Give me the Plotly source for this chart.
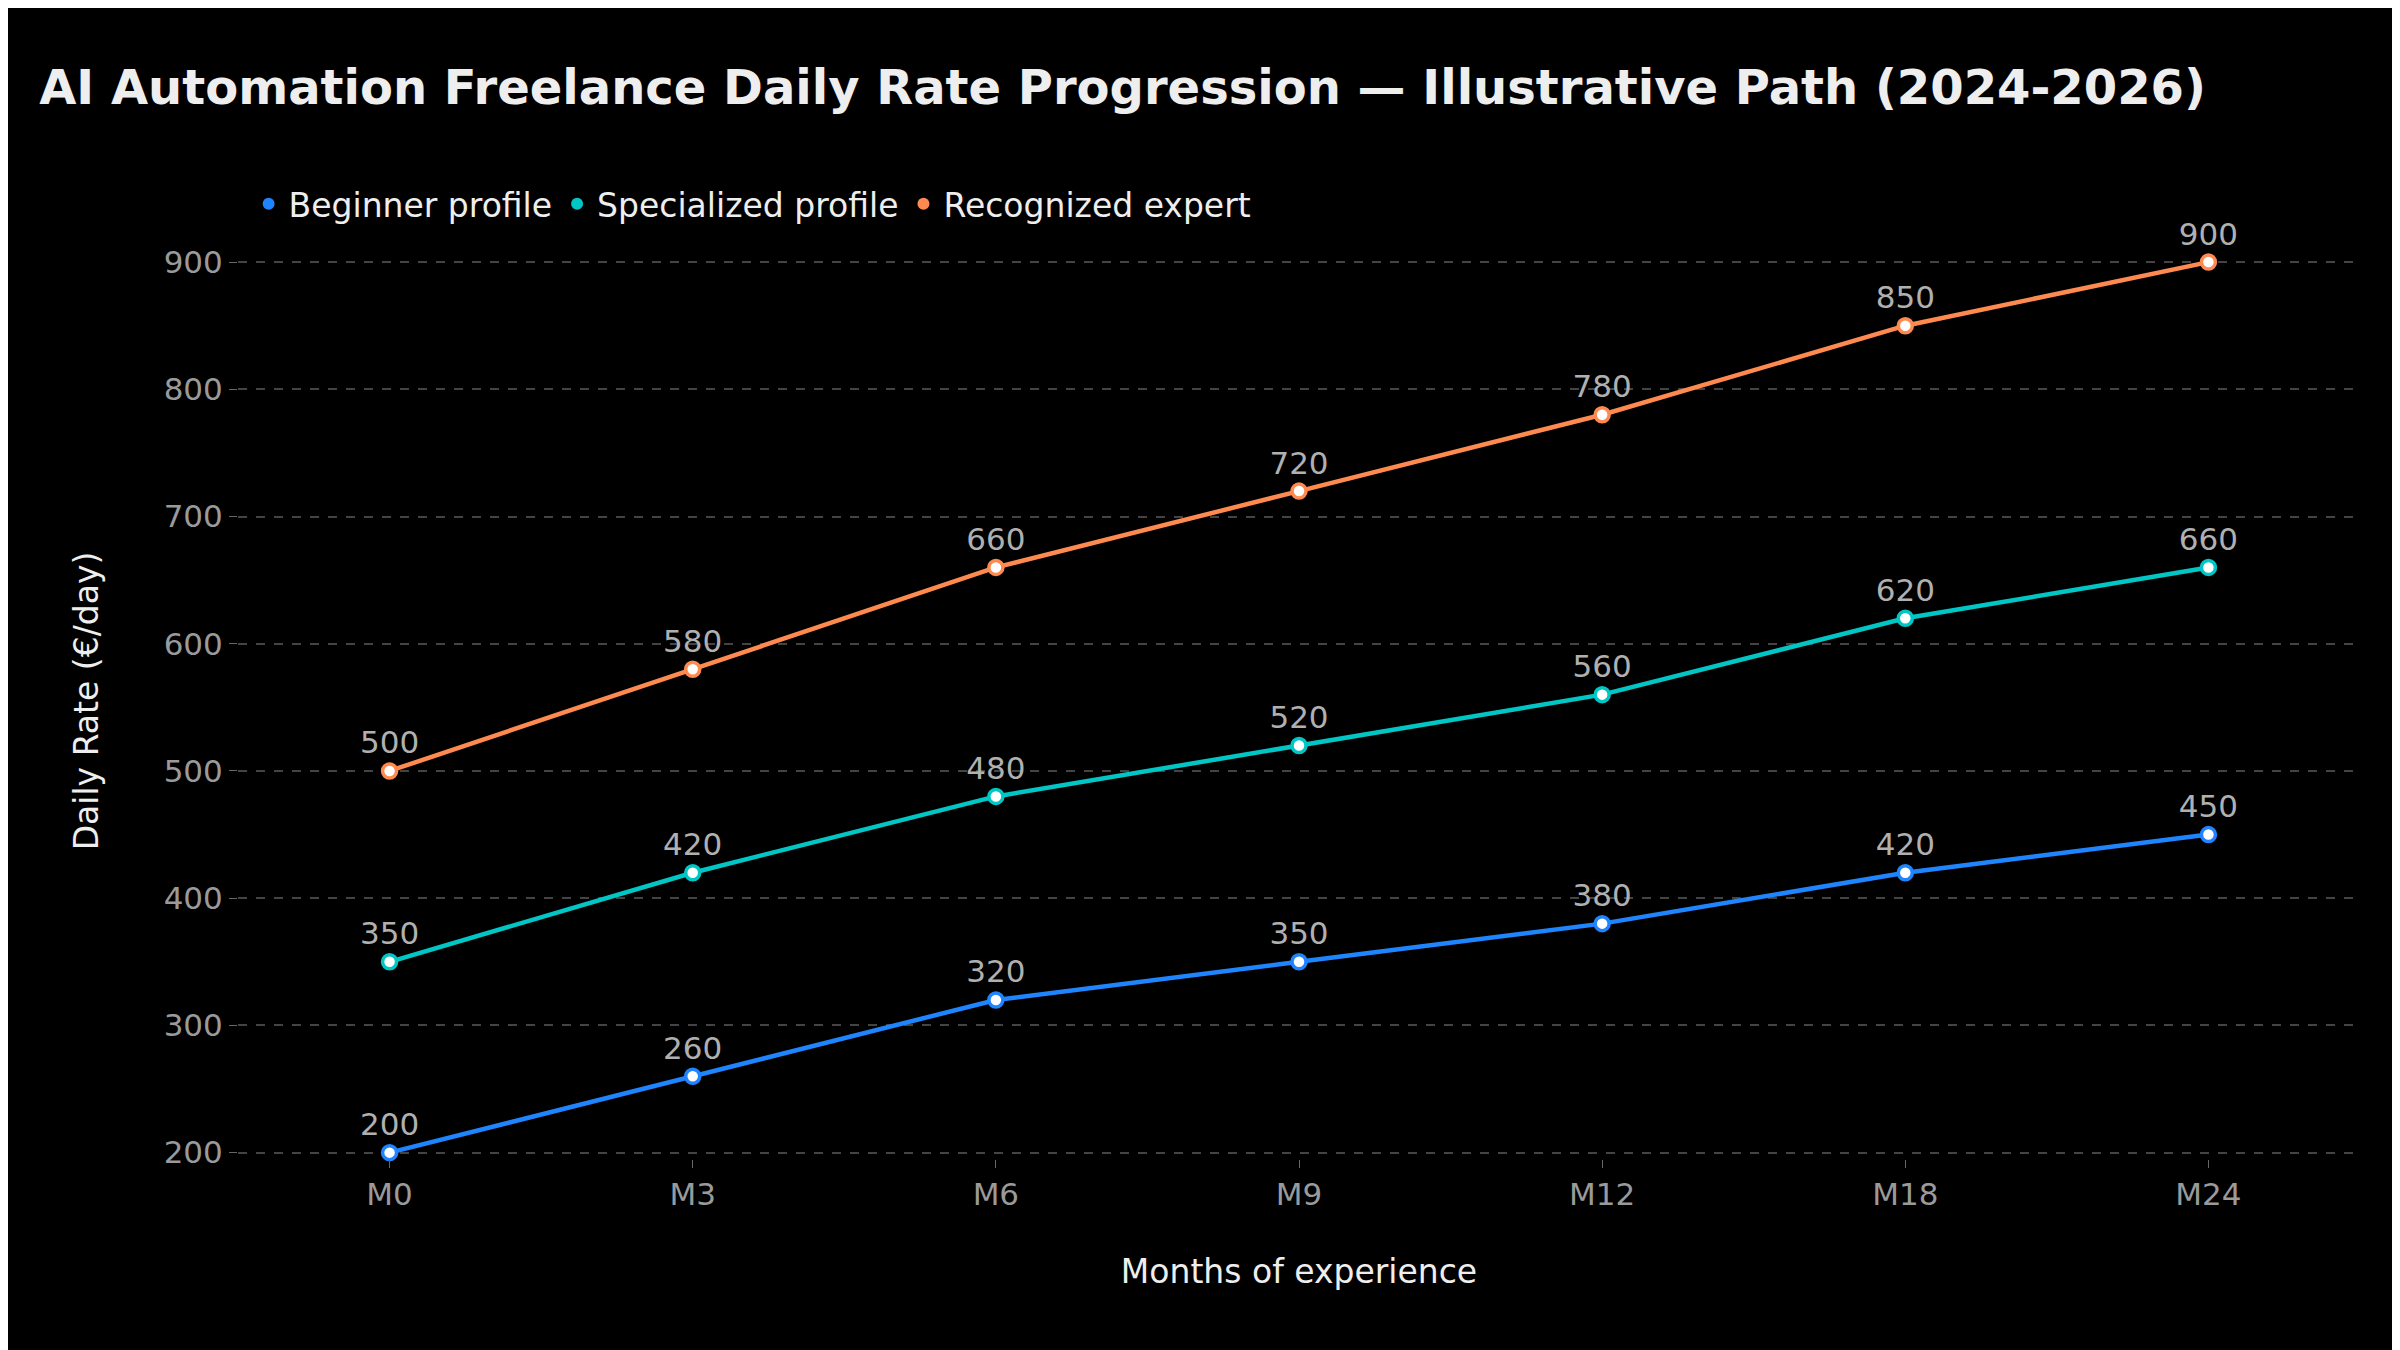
import plotly.graph_objects as go

months = ["M0", "M3", "M6", "M9", "M12", "M18", "M24"]
beginner = [200, 260, 320, 350, 380, 420, 450]
specialized = [350, 420, 480, 520, 560, 620, 660]
expert = [500, 580, 660, 720, 780, 850, 900]

series = [
    ("Beginner profile", beginner, "#1f85ff"),
    ("Specialized profile", specialized, "#00c6c6"),
    ("Recognized expert", expert, "#ff8a50"),
]

fig = go.Figure()
for name, vals, col in series:
    fig.add_trace(go.Scatter(
        x=months, y=vals, name=name, mode="lines+markers+text", showlegend=False,
        line=dict(color=col, width=4.5),
        marker=dict(size=14, color="white", line=dict(color=col, width=3.5)),
        text=[str(v) for v in vals], textposition="top center",
        textfont=dict(size=31, color="#b0b0b0", family="DejaVu Sans"),
        cliponaxis=False,
    ))
for name, vals, col in series:
    fig.add_trace(go.Scatter(
        x=[None], y=[None], name=name, mode="markers",
        marker=dict(size=18, color=col),
    ))

fig.update_layout(
    width=2400, height=1350,
    paper_bgcolor="black", plot_bgcolor="black",
    font=dict(family="DejaVu Sans", color="white"),
    title=dict(text="<b>AI Automation Freelance Daily Rate Progression — Illustrative Path (2024-2026)</b>",
               x=0.013, xanchor="left", y=0.941, yanchor="middle",
               font=dict(size=48, color="#eeeeee")),
    legend=dict(orientation="h", x=0.005, y=0.855, xanchor="left", yanchor="middle",
                yref="container",
                font=dict(size=33, color="#eeeeee"), bgcolor="rgba(0,0,0,0)",
                itemsizing="constant"),
    margin=dict(l=230, r=48, t=235, b=199),
    xaxis=dict(title=dict(text="Months of experience", font=dict(size=33, color="#eeeeee"), standoff=48),
               tickfont=dict(size=31, color="#9a9a9a"), showgrid=False, zeroline=False,
               range=[-0.5, 6.5], ticks="outside", ticklen=8, tickcolor="#666"),
    yaxis=dict(title=dict(text="Daily Rate (€/day)", font=dict(size=33, color="#eeeeee"), standoff=55),
               tickfont=dict(size=31, color="#9a9a9a"), range=[195, 915],
               tickvals=[200, 300, 400, 500, 600, 700, 800, 900],
               showgrid=True, gridcolor="#444", griddash="dash", gridwidth=1.5,
               zeroline=False, ticks="outside", ticklen=8, tickcolor="#666"),
)
fig.write_html("out.html")
